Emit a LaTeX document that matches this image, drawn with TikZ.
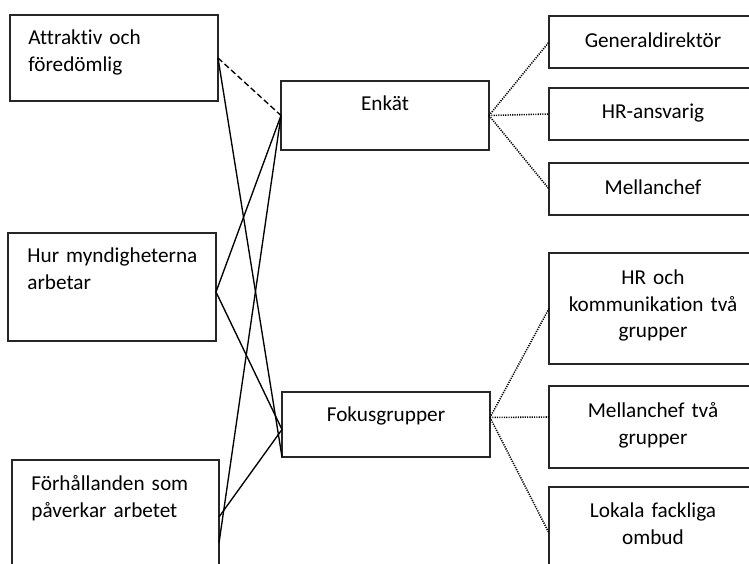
\documentclass[tikz,border=0pt]{standalone}
\usepackage{fontspec}
\setmainfont{Carlito}[Ligatures=NoCommon]
\def\pxu{0.518pt}
\newcommand\bx[5]{\node[box, minimum width={(#4-#2)*\pxu}, minimum height={(#5-#3)*\pxu}] (#1) at (#2,#3) {};}
\begin{document}
\begin{tikzpicture}[x=0.518pt,y=-0.518pt,
  box/.style={draw=black!85, line width=0.6pt, rectangle, inner sep=0pt, outer sep=0pt, anchor=north west},
  lt/.style={font=\fontsize{11pt}{13.5pt}\selectfont, inner sep=0pt, anchor=base west, text width=110pt, align=left},
  ct/.style={font=\fontsize{11pt}{13.5pt}\selectfont, inner sep=0pt, anchor=base, text width=104pt, align=center},
  conn/.style={line width=0.7pt},
  dashconn/.style={line width=0.7pt, dash pattern=on 3pt off 1.6pt},
  dotconn/.style={line width=0.8pt, dash pattern=on 0.6pt off 0.6pt}]
\useasboundingbox (0,0) rectangle (749,564);
\clip (0,0) rectangle (749,564);
% left boxes
\bx{a1}{10}{15}{218}{101}
\bx{a2}{8}{233}{216}{341}
\bx{a3}{12}{460}{219}{600}
% middle boxes
\bx{enk}{281}{81}{489}{150}
\bx{fok}{282}{392}{490}{457}
% right boxes
\bx{gd}{549}{16}{757}{68}
\bx{hr}{549}{88}{757}{140}
\bx{mc}{549}{163}{757}{215}
\bx{hrk}{549}{253}{757}{364}
\bx{mt}{549}{386}{757}{468}
\bx{lf}{549}{487}{757}{600}
% texts
\node[lt] (t1) at ([xshift=18*\pxu, yshift=-30*\pxu]a1.north west) {Attraktiv och\\föredömlig};
\node[lt] (t2) at ([xshift=19*\pxu, yshift=-30*\pxu]a2.north west) {Hur myndigheterna\\arbetar};
\node[lt] (t3) at ([xshift=19*\pxu, yshift=-31*\pxu]a3.north west) {Förhållanden som\\påverkar arbetet};
\node[ct] (t4) at ([yshift=-30*\pxu]enk.north) {Enkät};
\node[ct] (t5) at ([yshift=-30*\pxu]fok.north) {Fokusgrupper};
\node[ct] (t6) at ([yshift=-32*\pxu]gd.north) {Generaldirektör};
\node[ct] (t7) at ([yshift=-31*\pxu]hr.north) {HR-ansvarig};
\node[ct] (t8) at ([yshift=-32*\pxu]mc.north) {Mellanchef};
\node[ct] (t9) at ([yshift=-32*\pxu]hrk.north) {HR och\\kommunikation två\\grupper};
\node[ct] (t10) at ([yshift=-32*\pxu]mt.north) {Mellanchef två\\grupper};
\node[ct] (t11) at ([yshift=-31*\pxu]lf.north) {Lokala fackliga\\ombud};
% connection points
\coordinate (a2c) at ([yshift=-5*\pxu]a2.east);
\coordinate (a3c1) at ([yshift=-57*\pxu]a3.north east);
\coordinate (a3c2) at ([yshift=-83*\pxu]a3.north east);
\coordinate (fokc) at ([yshift=-5*\pxu]fok.west);
\coordinate (foke) at ([yshift=7*\pxu]fok.east);
\coordinate (mtw) at ([yshift=10*\pxu]mt.west);
\coordinate (lfw) at ([yshift=-46*\pxu]lf.north west);
% connectors
\draw[dashconn] (a1.east) -- (enk.west);
\draw[conn] (a1.east) -- (fok.south west);
\draw[conn] (enk.west) -- (a2c);
\draw[conn] (enk.west) -- (a3c2);
\draw[conn] (a2c) -- (fokc);
\draw[conn] (a3c1) -- (fokc);
\draw[dotconn] (enk.east) -- (gd.west);
\draw[dotconn] (enk.east) -- (hr.west);
\draw[dotconn] (enk.east) -- (mc.west);
\draw[dotconn] (foke) -- (hrk.west);
\draw[dotconn] (foke) -- (mtw);
\draw[dotconn] (foke) -- (lfw);
\end{tikzpicture}
\end{document}
